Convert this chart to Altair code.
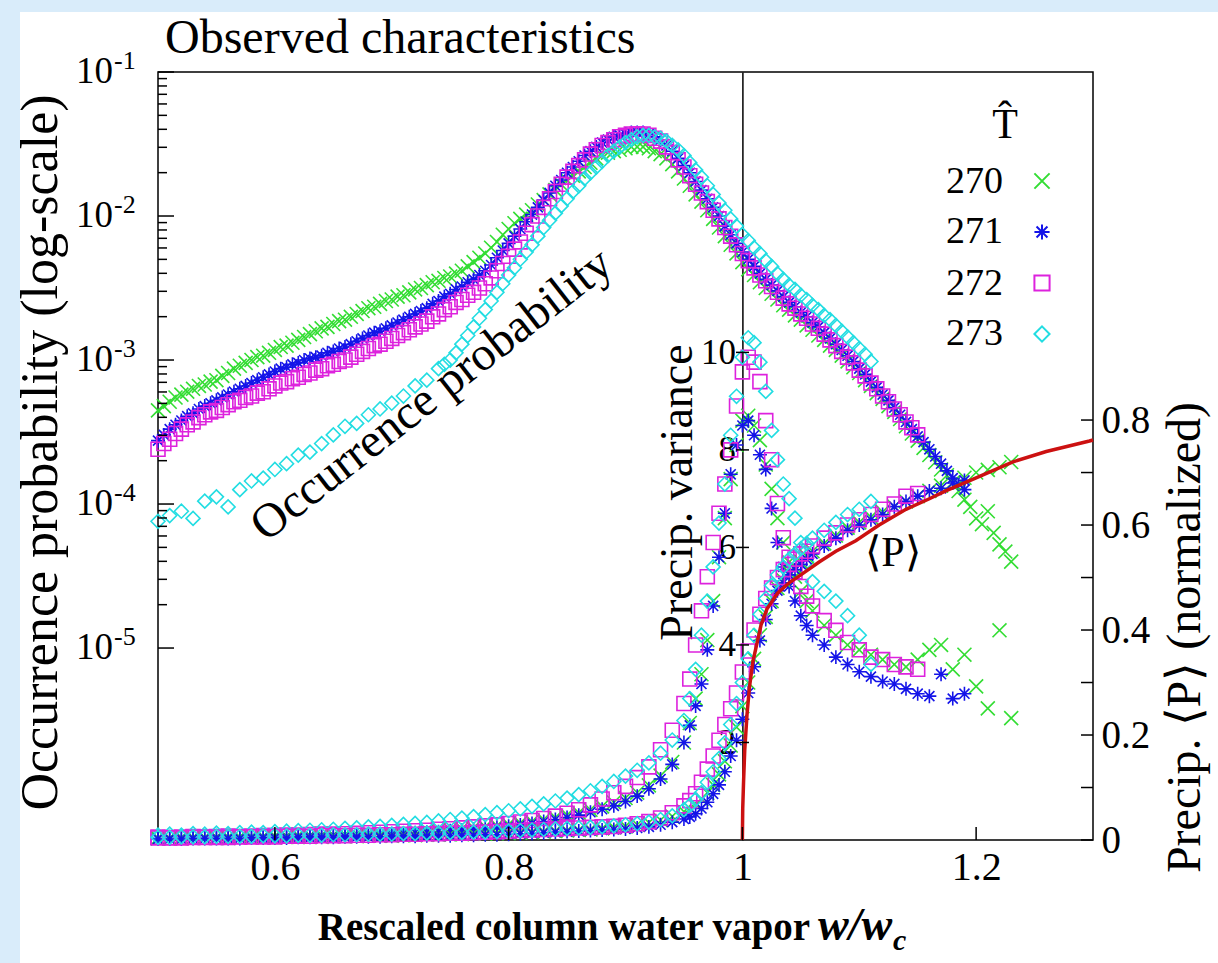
import altair as alt
import pandas as pd

FONT = "Liberation Serif"
W, H = 935, 768

SERIES = ["270", "271", "272", "273"]
COLORS = ["#33dd33", "#1414e8", "#dd22dd", "#22dde2"]
SHAPES = [
    "M-1,-1L1,1M-1,1L1,-1",
    "M-1,0L1,0M0,-1L0,1M-0.72,-0.72L0.72,0.72M-0.72,0.72L0.72,-0.72",
    "square",
    "diamond",
]

# ---- occurrence probability: x positions and log10(probability) ----
X_FINE = [0.500, 0.505, 0.510, 0.515, 0.520, 0.525, 0.530, 0.535, 0.540, 0.545,
          0.550, 0.555, 0.560, 0.565, 0.570, 0.575, 0.580, 0.585, 0.590, 0.595,
          0.600, 0.605, 0.610, 0.615, 0.620, 0.625, 0.630, 0.635, 0.640, 0.645,
          0.650, 0.655, 0.660, 0.665, 0.670, 0.675, 0.680, 0.685, 0.690, 0.695,
          0.700, 0.705, 0.710, 0.715, 0.720, 0.725, 0.730, 0.735, 0.740, 0.745,
          0.750, 0.755, 0.760, 0.765, 0.770, 0.775, 0.780, 0.785, 0.790, 0.795,
          0.800, 0.805, 0.810, 0.815, 0.820, 0.825, 0.830, 0.835, 0.840, 0.845,
          0.850, 0.855, 0.860, 0.865, 0.870, 0.875, 0.880, 0.885, 0.890, 0.895,
          0.900, 0.905, 0.910, 0.915, 0.920, 0.925, 0.930, 0.935, 0.940, 0.945,
          0.950, 0.955, 0.960, 0.965, 0.970, 0.975, 0.980, 0.985, 0.990, 0.995,
          1.000, 1.005, 1.010, 1.015, 1.020, 1.025, 1.030, 1.035, 1.040, 1.045,
          1.050, 1.055, 1.060, 1.065, 1.070, 1.075, 1.080, 1.085, 1.090, 1.095,
          1.100, 1.105, 1.110, 1.115, 1.120, 1.125, 1.130, 1.135, 1.140, 1.145,
          1.150, 1.155, 1.160, 1.165, 1.170, 1.175, 1.180, 1.185, 1.190, 1.195,
          1.200, 1.205, 1.210, 1.215, 1.220, 1.225, 1.230]

OCC_270 = [-3.35, -3.32, -3.29, -3.26, -3.24, -3.22, -3.20, -3.18, -3.17, -3.15,
           -3.14, -3.11, -3.09, -3.06, -3.04, -3.02, -3.00, -2.98, -2.97, -2.95,
           -2.93, -2.91, -2.90, -2.88, -2.86, -2.84, -2.82, -2.80, -2.78, -2.77,
           -2.75, -2.73, -2.72, -2.70, -2.68, -2.66, -2.64, -2.63, -2.61, -2.59,
           -2.58, -2.56, -2.55, -2.53, -2.51, -2.50, -2.48, -2.46, -2.45, -2.43,
           -2.42, -2.40, -2.38, -2.35, -2.32, -2.29, -2.26, -2.22, -2.18, -2.13,
           -2.09, -2.05, -2.02, -1.99, -1.96, -1.92, -1.89, -1.85, -1.82, -1.78,
           -1.75, -1.72, -1.69, -1.66, -1.63, -1.60, -1.58, -1.56, -1.55, -1.54,
           -1.53, -1.52, -1.52, -1.52, -1.53, -1.55, -1.57, -1.60, -1.64, -1.69,
           -1.74, -1.79, -1.85, -1.90, -1.96, -2.02, -2.08, -2.14, -2.20, -2.26,
           -2.32, -2.37, -2.41, -2.46, -2.50, -2.54, -2.58, -2.62, -2.65, -2.69,
           -2.72, -2.76, -2.79, -2.83, -2.86, -2.90, -2.93, -2.97, -3.01, -3.05,
           -3.09, -3.14, -3.18, -3.23, -3.27, -3.32, -3.36, -3.41, -3.46, -3.51,
           -3.56, -3.61, -3.66, -3.71, -3.76, -3.80, -3.85, -3.91, -3.97, -4.02,
           -4.10, -4.14, -4.05, -4.20, -4.28, -4.33, -4.40]
OCC_271 = [-3.56, -3.52, -3.48, -3.45, -3.42, -3.39, -3.37, -3.34, -3.32, -3.30,
           -3.28, -3.26, -3.24, -3.22, -3.20, -3.18, -3.16, -3.14, -3.12, -3.10,
           -3.08, -3.06, -3.05, -3.03, -3.02, -3.00, -2.99, -2.98, -2.97, -2.95,
           -2.94, -2.92, -2.91, -2.89, -2.87, -2.85, -2.83, -2.81, -2.80, -2.78,
           -2.76, -2.74, -2.72, -2.70, -2.68, -2.66, -2.64, -2.61, -2.59, -2.56,
           -2.54, -2.51, -2.49, -2.46, -2.44, -2.41, -2.38, -2.34, -2.29, -2.24,
           -2.19, -2.14, -2.09, -2.04, -1.99, -1.94, -1.89, -1.84, -1.79, -1.75,
           -1.70, -1.66, -1.62, -1.58, -1.55, -1.52, -1.49, -1.47, -1.45, -1.44,
           -1.43, -1.42, -1.42, -1.42, -1.43, -1.45, -1.47, -1.51, -1.55, -1.60,
           -1.65, -1.70, -1.76, -1.82, -1.88, -1.94, -2.00, -2.07, -2.13, -2.19,
           -2.25, -2.30, -2.35, -2.40, -2.44, -2.48, -2.52, -2.56, -2.60, -2.63,
           -2.67, -2.70, -2.74, -2.77, -2.81, -2.85, -2.89, -2.93, -2.97, -3.01,
           -3.06, -3.10, -3.15, -3.19, -3.24, -3.28, -3.33, -3.38, -3.43, -3.48,
           -3.53, -3.57, -3.62, -3.67, -3.72, -3.77, -3.82, -3.86, -3.90]
OCC_272 = [-3.62, -3.58, -3.55, -3.51, -3.48, -3.45, -3.43, -3.40, -3.38, -3.36,
           -3.35, -3.33, -3.31, -3.29, -3.28, -3.26, -3.25, -3.23, -3.22, -3.20,
           -3.18, -3.16, -3.15, -3.13, -3.12, -3.10, -3.09, -3.07, -3.06, -3.04,
           -3.03, -3.01, -3.00, -2.98, -2.96, -2.94, -2.92, -2.90, -2.89, -2.87,
           -2.85, -2.83, -2.81, -2.79, -2.77, -2.75, -2.73, -2.70, -2.68, -2.65,
           -2.63, -2.60, -2.58, -2.55, -2.53, -2.50, -2.47, -2.43, -2.38, -2.33,
           -2.28, -2.23, -2.18, -2.12, -2.06, -2.00, -1.94, -1.88, -1.83, -1.78,
           -1.73, -1.69, -1.65, -1.61, -1.57, -1.54, -1.51, -1.49, -1.47, -1.45,
           -1.44, -1.43, -1.43, -1.43, -1.44, -1.46, -1.48, -1.52, -1.56, -1.61,
           -1.66, -1.72, -1.78, -1.84, -1.90, -1.96, -2.02, -2.08, -2.14, -2.20,
           -2.26, -2.31, -2.36, -2.41, -2.45, -2.49, -2.53, -2.57, -2.61, -2.64,
           -2.68, -2.71, -2.75, -2.78, -2.82, -2.86, -2.90, -2.94, -2.98, -3.02,
           -3.07, -3.11, -3.16, -3.20, -3.25, -3.29, -3.34, -3.38, -3.43, -3.47,
           -3.52]

X_OCC_273 = [0.50, 0.51, 0.52, 0.53, 0.54, 0.55, 0.56, 0.57, 0.58, 0.59,
             0.60, 0.61, 0.62, 0.63, 0.64, 0.65, 0.66, 0.67, 0.68, 0.69,
             0.70, 0.71, 0.72, 0.73, 0.74,
             0.745, 0.750, 0.755, 0.760, 0.765, 0.770, 0.775, 0.780, 0.785, 0.790,
             0.795, 0.800, 0.805, 0.810, 0.815, 0.820, 0.825, 0.830, 0.835, 0.840,
             0.845, 0.850, 0.855, 0.860, 0.865, 0.870, 0.875, 0.880, 0.885, 0.890,
             0.895, 0.900, 0.905, 0.910, 0.915, 0.920, 0.925, 0.930, 0.935, 0.940,
             0.945, 0.950, 0.955, 0.960, 0.965, 0.970, 0.975, 0.980, 0.985, 0.990,
             0.995, 1.000, 1.005, 1.010, 1.015, 1.020, 1.025, 1.030, 1.035, 1.040,
             1.045, 1.050, 1.055, 1.060, 1.065, 1.070, 1.075, 1.080, 1.085, 1.090,
             1.095, 1.100, 1.105, 1.110]
OCC_273 = [-4.12, -4.08, -4.05, -4.10, -3.98, -3.95, -4.02, -3.90, -3.84, -3.82,
           -3.76, -3.72, -3.66, -3.64, -3.58, -3.52, -3.46, -3.44, -3.38, -3.34,
           -3.30, -3.25, -3.18, -3.14, -3.06,
           -3.03, -3.00, -2.95, -2.89, -2.83, -2.77, -2.71, -2.65, -2.59, -2.53,
           -2.47, -2.41, -2.36, -2.30, -2.25, -2.20, -2.14, -2.08, -2.03, -1.98,
           -1.93, -1.88, -1.83, -1.79, -1.74, -1.70, -1.66, -1.62, -1.58, -1.55,
           -1.52, -1.49, -1.47, -1.45, -1.44, -1.44, -1.45, -1.46, -1.48, -1.51,
           -1.54, -1.58, -1.63, -1.68, -1.73, -1.79, -1.85, -1.91, -1.96, -2.02,
           -2.07, -2.13, -2.17, -2.22, -2.26, -2.31, -2.35, -2.40, -2.44, -2.48,
           -2.51, -2.55, -2.58, -2.62, -2.65, -2.69, -2.72, -2.76, -2.80, -2.84,
           -2.88, -2.92, -2.96, -3.01]

# ---- precipitation variance and mean precipitation <P> ----
X_VP = [0.50, 0.51, 0.52, 0.53, 0.54, 0.55, 0.56, 0.57, 0.58, 0.59,
        0.60, 0.61, 0.62, 0.63, 0.64, 0.65, 0.66, 0.67, 0.68, 0.69,
        0.70, 0.71, 0.72, 0.73, 0.74, 0.75, 0.76, 0.77, 0.78, 0.79,
        0.80, 0.81, 0.82, 0.83, 0.84, 0.85, 0.86, 0.87, 0.88, 0.89,
        0.90, 0.91, 0.92, 0.93, 0.94, 0.95,
        0.955, 0.96, 0.965, 0.97, 0.975, 0.98, 0.985, 0.99, 0.995, 1.00,
        1.005, 1.01, 1.015, 1.02, 1.025, 1.03, 1.035, 1.04, 1.045, 1.05,
        1.055, 1.06,
        1.07, 1.08, 1.09, 1.10, 1.11, 1.12, 1.13, 1.14, 1.15, 1.16,
        1.17, 1.18, 1.19, 1.20, 1.21, 1.22, 1.23]

VAR_270 = [0.04, 0.04, 0.05, 0.05, 0.05, 0.06, 0.06, 0.06, 0.07, 0.07,
           0.08, 0.08, 0.09, 0.09, 0.10, 0.10, 0.11, 0.12, 0.13, 0.14,
           0.15, 0.16, 0.17, 0.18, 0.20, 0.21, 0.23, 0.25, 0.27, 0.29,
           0.32, 0.35, 0.38, 0.42, 0.46, 0.51, 0.56, 0.62, 0.69, 0.77,
           0.86, 0.97, 1.12, 1.32, 1.60, 2.00,
           2.40, 2.90, 3.40, 4.10, 4.90, 5.80, 6.60, 7.40, 8.10, 8.60,
           8.70, 8.50, 8.20, 7.70, 7.20, 6.60, 6.10, 5.70, 5.40, 5.10,
           4.90, 4.70,
           4.40, 4.20, 4.00, 3.90, 3.80, 3.70, 3.60, 3.55, 3.70, 3.90,
           4.00, 3.50, 3.80, 3.15, 2.70, 4.30, 2.50]
VAR_271 = [0.03, 0.03, 0.04, 0.04, 0.04, 0.05, 0.05, 0.05, 0.06, 0.06,
           0.06, 0.07, 0.07, 0.08, 0.08, 0.09, 0.09, 0.10, 0.11, 0.12,
           0.13, 0.14, 0.15, 0.16, 0.17, 0.19, 0.20, 0.22, 0.24, 0.26,
           0.28, 0.31, 0.34, 0.38, 0.42, 0.46, 0.51, 0.57, 0.63, 0.70,
           0.79, 0.90, 1.05, 1.25, 1.55, 2.00,
           2.35, 2.75, 3.20, 3.90, 4.80, 5.80, 6.70, 7.50, 8.10, 8.50,
           8.60, 8.30, 7.90, 7.60, 6.80, 6.10, 5.60, 5.20, 4.90, 4.60,
           4.40, 4.20,
           4.00, 3.75, 3.60, 3.45, 3.35, 3.25, 3.20, 3.10, 3.00, 2.95,
           3.40, 2.90, 3.00]
VAR_272 = [0.06, 0.05, 0.06, 0.07, 0.06, 0.07, 0.08, 0.07, 0.08, 0.09,
           0.09, 0.10, 0.10, 0.11, 0.12, 0.12, 0.13, 0.14, 0.15, 0.16,
           0.17, 0.18, 0.19, 0.20, 0.22, 0.23, 0.25, 0.27, 0.29, 0.31,
           0.34, 0.37, 0.40, 0.44, 0.49, 0.55, 0.62, 0.72, 0.84, 0.97,
           1.10, 1.28, 1.50, 1.85, 2.25, 2.80,
           3.30, 4.00, 4.70, 5.40, 6.10, 6.70, 7.30, 8.00, 8.90, 9.60,
           9.90, 9.80, 9.40, 8.60, 7.80, 6.90, 6.20, 5.80, 5.50, 5.20,
           5.00, 4.80,
           4.50, 4.30, 4.05, 3.90, 3.75, 3.70, 3.60, 3.55, 3.50]
VAR_273 = [0.10, 0.12, 0.10, 0.13, 0.12, 0.14, 0.13, 0.15, 0.16, 0.15,
           0.17, 0.18, 0.19, 0.20, 0.21, 0.22, 0.24, 0.25, 0.27, 0.28,
           0.30, 0.32, 0.34, 0.36, 0.39, 0.42, 0.45, 0.48, 0.52, 0.56,
           0.60, 0.64, 0.69, 0.74, 0.80, 0.86, 0.93, 1.01, 1.10, 1.20,
           1.31, 1.43, 1.58, 1.78, 2.05, 2.45,
           2.90, 3.50, 4.20, 4.90, 5.60, 6.50, 7.30, 8.30, 9.10, 9.90,
           10.30, 10.20, 9.80, 9.20, 8.40, 7.80, 7.30, 7.00, 6.60, 6.10,
           5.70, 5.30,
           5.10, 4.90, 4.60, 4.20, 3.60]

P_270 = [0.003, 0.003, 0.003, 0.004, 0.004, 0.004, 0.004, 0.005, 0.005, 0.005,
         0.005, 0.006, 0.006, 0.006, 0.006, 0.007, 0.007, 0.007, 0.008, 0.008,
         0.008, 0.009, 0.009, 0.010, 0.010, 0.011, 0.011, 0.012, 0.012, 0.013,
         0.013, 0.014, 0.015, 0.016, 0.017, 0.018, 0.019, 0.020, 0.022, 0.024,
         0.026, 0.029, 0.033, 0.038, 0.045, 0.054,
         0.060, 0.068, 0.078, 0.090, 0.105, 0.125, 0.150, 0.180, 0.215, 0.255,
         0.300, 0.345, 0.390, 0.425, 0.455, 0.480, 0.495, 0.510, 0.520, 0.530,
         0.540, 0.550,
         0.565, 0.580, 0.595, 0.605, 0.615, 0.625, 0.635, 0.645, 0.655, 0.665,
         0.675, 0.680, 0.690, 0.700, 0.705, 0.710, 0.720]
P_271 = [0.002, 0.002, 0.002, 0.003, 0.003, 0.003, 0.003, 0.003, 0.004, 0.004,
         0.004, 0.004, 0.005, 0.005, 0.005, 0.005, 0.006, 0.006, 0.006, 0.006,
         0.007, 0.007, 0.007, 0.008, 0.008, 0.008, 0.009, 0.009, 0.010, 0.010,
         0.011, 0.012, 0.013, 0.014, 0.015, 0.016, 0.017, 0.018, 0.019, 0.020,
         0.021, 0.023, 0.025, 0.029, 0.034, 0.040,
         0.044, 0.050, 0.060, 0.072, 0.088, 0.105, 0.130, 0.160, 0.190, 0.230,
         0.280, 0.330, 0.380, 0.420, 0.450, 0.475, 0.490, 0.505, 0.515, 0.525,
         0.535, 0.545,
         0.560, 0.575, 0.590, 0.600, 0.610, 0.620, 0.635, 0.645, 0.655, 0.665,
         0.670, 0.680, 0.685]
P_272 = [0.004, 0.004, 0.004, 0.005, 0.005, 0.005, 0.005, 0.006, 0.006, 0.006,
         0.006, 0.007, 0.007, 0.007, 0.008, 0.008, 0.008, 0.009, 0.009, 0.010,
         0.010, 0.011, 0.011, 0.012, 0.012, 0.013, 0.013, 0.014, 0.015, 0.016,
         0.017, 0.018, 0.019, 0.020, 0.021, 0.022, 0.023, 0.024, 0.025, 0.026,
         0.028, 0.031, 0.035, 0.042, 0.052, 0.065,
         0.075, 0.088, 0.110, 0.135, 0.160, 0.190, 0.220, 0.250, 0.280, 0.320,
         0.360, 0.400, 0.430, 0.460, 0.480, 0.500, 0.515, 0.525, 0.535, 0.545,
         0.550, 0.560,
         0.575, 0.585, 0.600, 0.610, 0.620, 0.630, 0.640, 0.655, 0.660]
P_273 = [0.005, 0.005, 0.006, 0.006, 0.006, 0.007, 0.007, 0.007, 0.007, 0.008,
         0.008, 0.008, 0.009, 0.009, 0.009, 0.010, 0.010, 0.010, 0.011, 0.011,
         0.011, 0.012, 0.012, 0.013, 0.013, 0.014, 0.014, 0.015, 0.015, 0.016,
         0.017, 0.018, 0.019, 0.020, 0.021, 0.022, 0.023, 0.024, 0.025, 0.027,
         0.029, 0.031, 0.034, 0.039, 0.046, 0.058,
         0.066, 0.077, 0.090, 0.110, 0.130, 0.155, 0.185, 0.220, 0.260, 0.300,
         0.345, 0.390, 0.430, 0.460, 0.485, 0.505, 0.520, 0.535, 0.545, 0.555,
         0.565, 0.575,
         0.590, 0.605, 0.620, 0.630, 0.645]

# ---- fitted <P> curve (red) ----
FIT_X = [1.0, 1.0003, 1.001, 1.002, 1.004, 1.006, 1.009, 1.012, 1.016, 1.021,
         1.03, 1.04, 1.05, 1.066, 1.08, 1.097, 1.117, 1.14, 1.16, 1.174,
         1.20, 1.231, 1.26, 1.297, 1.30]
FIT_P = [0.0, 0.06, 0.11, 0.17, 0.24, 0.29, 0.34, 0.37, 0.41, 0.44,
         0.47, 0.49, 0.505, 0.53, 0.55, 0.57, 0.60, 0.63, 0.65, 0.665,
         0.69, 0.72, 0.74, 0.76, 0.762]

# ---- tick positions / labels ----
X_TICKS = [0.6, 0.8, 1.0, 1.2]
LOG_MAJOR = [1e-1, 1e-2, 1e-3, 1e-4, 1e-5]
LOG_EXP = ["-1", "-2", "-3", "-4", "-5"]
LOG_MINOR = [2e-5, 3e-5, 4e-5, 5e-5, 6e-5, 7e-5, 8e-5, 9e-5,
             2e-4, 3e-4, 4e-4, 5e-4, 6e-4, 7e-4, 8e-4, 9e-4,
             2e-3, 3e-3, 4e-3, 5e-3, 6e-3, 7e-3, 8e-3, 9e-3,
             2e-2, 3e-2, 4e-2, 5e-2, 6e-2, 7e-2, 8e-2, 9e-2]
VAR_TICKS = [2, 4, 6, 8, 10]
P_TICKS = [0.0, 0.1, 0.2, 0.3, 0.4, 0.5, 0.6, 0.7, 0.8]
LEGEND_ROW_Y = [110, 160, 212, 262]

OCC = {"270": (X_FINE, OCC_270), "271": (X_FINE, OCC_271),
       "272": (X_FINE, OCC_272), "273": (X_OCC_273, OCC_273)}
VAR = {"270": VAR_270, "271": VAR_271, "272": VAR_272, "273": VAR_273}
PM = {"270": P_270, "271": P_271, "272": P_272, "273": P_273}

occ_rows, var_rows, p_rows = [], [], []
for s in SERIES:
    xs_, lv_ = OCC[s]
    for x, lv in zip(xs_, lv_):
        occ_rows.append({"x": x, "p": 10 ** lv, "T": s})
    for x, v in zip(X_VP, VAR[s]):
        var_rows.append({"x": x, "v": v, "T": s})
    for x, v in zip(X_VP, PM[s]):
        p_rows.append({"x": x, "P": v, "T": s})
occ_df = pd.DataFrame(occ_rows)
var_df = pd.DataFrame(var_rows)
p_df = pd.DataFrame(p_rows)
fit_df = pd.DataFrame({"x": FIT_X, "P": FIT_P})

# ---- scales ----
xs = alt.Scale(domain=[0.5, 1.3], nice=False, zero=False)
ys_log = alt.Scale(type="log", domain=[10 ** -6.333, 0.1], nice=False)
ys_var = alt.Scale(domain=[0, 15.75], nice=False, zero=False)
ys_p = alt.Scale(domain=[0, 1.463], nice=False, zero=False)

x_axis = alt.Axis(values=X_TICKS,
                  labelExpr="datum.value == 1 ? '1' : format(datum.value, '.1f')",
                  ticks=False, grid=False, domain=False, labelFont=FONT,
                  labelFontSize=40, labelColor="black", labelPadding=7,
                  title=None)


def X():
    return alt.X("x:Q", scale=xs, axis=x_axis)


LEG = alt.Legend(orient="none", legendX=865, legendY=90, title=None,
                 labelFont=FONT, labelFontSize=38, labelOpacity=0,
                 labelOffset=0, symbolSize=230, symbolStrokeWidth=2,
                 rowPadding=13, padding=0)
color_enc = alt.Color("T:N", scale=alt.Scale(domain=SERIES, range=COLORS), legend=LEG)
shape_enc = alt.Shape("T:N", scale=alt.Scale(domain=SERIES, range=SHAPES), legend=LEG)

pt = dict(filled=False, size=195, strokeWidth=1.6, opacity=1)

occ_pts = alt.Chart(occ_df).mark_point(**pt).encode(
    x=X(),
    y=alt.Y("p:Q", scale=ys_log, axis=alt.Axis(
        labels=False, ticks=False, domain=False, grid=False,
        title="Occurrence probability (log-scale)", titleX=-118, titleY=380,
        titleAngle=270, titleAlign="center", titleBaseline="middle",
        titleFont=FONT, titleFontSize=52, titleFontWeight="normal",
        titleColor="black")),
    color=color_enc, shape=shape_enc)

var_pts = alt.Chart(var_df).mark_point(**pt).encode(
    x=X(),
    y=alt.Y("v:Q", scale=ys_var, axis=alt.Axis(
        orient="left", offset=-584.4, values=VAR_TICKS, ticks=False,
        grid=False, domain=True, domainColor="black", domainWidth=1.5,
        labelFont=FONT, labelFontSize=35, labelColor="black", labelPadding=7,
        title="Precip. variance", titleX=-65, titleY=420, titleAngle=270,
        titleAlign="center", titleBaseline="middle", titleFont=FONT,
        titleFontSize=46, titleFontWeight="normal", titleColor="black")),
    color=color_enc, shape=shape_enc)

p_pts = alt.Chart(p_df).mark_point(**pt).encode(
    x=X(),
    y=alt.Y("P:Q", scale=ys_p, axis=alt.Axis(
        orient="right", values=P_TICKS,
        labelExpr="(round(datum.value * 10) % 2 == 0) ? (datum.value == 0 ? '0' : format(datum.value, '.1f')) : ''",
        ticks=False, grid=False, domain=False, labelFont=FONT,
        labelFontSize=39, labelColor="black", labelPadding=8,
        title="Precip. \u27e8P\u27e9 (normalized)", titleX=92, titleY=565,
        titleAngle=270, titleAlign="center", titleBaseline="middle",
        titleFont=FONT, titleFontSize=48, titleFontWeight="normal",
        titleColor="black")),
    color=color_enc, shape=shape_enc)

fit_line = alt.Chart(fit_df).mark_line(color="#cc1111", strokeWidth=3.5).encode(
    x=X(), y=alt.Y("P:Q", scale=ys_p, axis=None))

rule = dict(color="black", strokeWidth=1.5)
log_major = alt.Chart(pd.DataFrame({"v": LOG_MAJOR})).mark_rule(**rule).encode(
    x=alt.value(0), x2=alt.value(16), y=alt.Y("v:Q", scale=ys_log, axis=None))
log_minor = alt.Chart(pd.DataFrame({"v": LOG_MINOR})).mark_rule(**rule).encode(
    x=alt.value(0), x2=alt.value(9), y=alt.Y("v:Q", scale=ys_log, axis=None))
log_lab = pd.DataFrame({"v": LOG_MAJOR, "b": ["10"] * 5, "e": LOG_EXP})
log_base = alt.Chart(log_lab).mark_text(align="right", baseline="middle", font=FONT,
                                        fontSize=37, color="black").encode(
    x=alt.value(-45), y=alt.Y("v:Q", scale=ys_log, axis=None), text="b:N")
log_exp = alt.Chart(log_lab).mark_text(align="left", baseline="middle", font=FONT,
                                       fontSize=26, color="black", dy=-11).encode(
    x=alt.value(-44), y=alt.Y("v:Q", scale=ys_log, axis=None), text="e:N")
x_tk = alt.Chart(pd.DataFrame({"x": X_TICKS})).mark_rule(**rule).encode(
    x=X(), y=alt.value(H), y2=alt.value(H - 13))
var_tk = alt.Chart(pd.DataFrame({"v": VAR_TICKS})).mark_rule(**rule).encode(
    x=alt.value(578), x2=alt.value(591), y=alt.Y("v:Q", scale=ys_var, axis=None))
p_tk = alt.Chart(pd.DataFrame({"P": P_TICKS})).mark_rule(**rule).encode(
    x=alt.value(W - 12), x2=alt.value(W), y=alt.Y("P:Q", scale=ys_p, axis=None))

legend_labels = alt.Chart(pd.DataFrame({"T": SERIES, "ry": LEGEND_ROW_Y})).mark_text(
    align="right", baseline="middle", font=FONT, fontSize=38, color="black").encode(
    x=alt.value(845), y=alt.Y("ry:Q", scale=None), text="T:N")


def txt(t, x, y, size, **kw):
    return alt.Chart(pd.DataFrame({"t": [t]})).mark_text(
        font=FONT, fontSize=size, color="black", **kw).encode(
        x=alt.value(x), y=alt.value(y), text="t:N")


one = pd.DataFrame({"a": [0]})
strip_left = alt.Chart(one).mark_rect(color="#d9ecfa").encode(
    x=alt.value(-158), x2=alt.value(-138), y=alt.value(-72), y2=alt.value(891))
strip_top = alt.Chart(one).mark_rect(color="#d9ecfa").encode(
    x=alt.value(-158), x2=alt.value(1060), y=alt.value(-72), y2=alt.value(-60))

layers = [
    strip_left, strip_top,
    occ_pts, var_pts, p_pts, fit_line,
    log_major, log_minor, log_base, log_exp, x_tk, var_tk, p_tk,
    legend_labels,
    txt("Observed characteristics", 7, -19, 48, align="left", baseline="alphabetic"),
    txt("Occurrence probability", 274, 323, 48, align="center", baseline="middle", angle=322),
    txt("\u27e8P\u27e9", 735, 481, 42, align="center", baseline="middle"),
    txt("T\u0302", 847, 53, 42, align="center", baseline="middle"),
    txt("Rescaled column water vapor", 652, 868, 39, align="right",
        baseline="alphabetic", fontWeight="bold"),
    txt("w/w", 660, 868, 46, align="left", baseline="alphabetic",
        fontWeight="bold", fontStyle="italic"),
    txt("c", 735, 878, 30, align="left", baseline="alphabetic",
        fontWeight="bold", fontStyle="italic"),
]

chart = alt.layer(*layers).resolve_scale(y="independent").properties(
    width=W, height=H,
    padding={"left": 158, "top": 72, "right": 125, "bottom": 123},
    autosize=alt.AutoSizeParams(type="none"),
    background="white",
).configure_view(stroke="black", strokeWidth=1.5)

chart.save("out.html", embed_options={"renderer": "svg", "actions": False})
